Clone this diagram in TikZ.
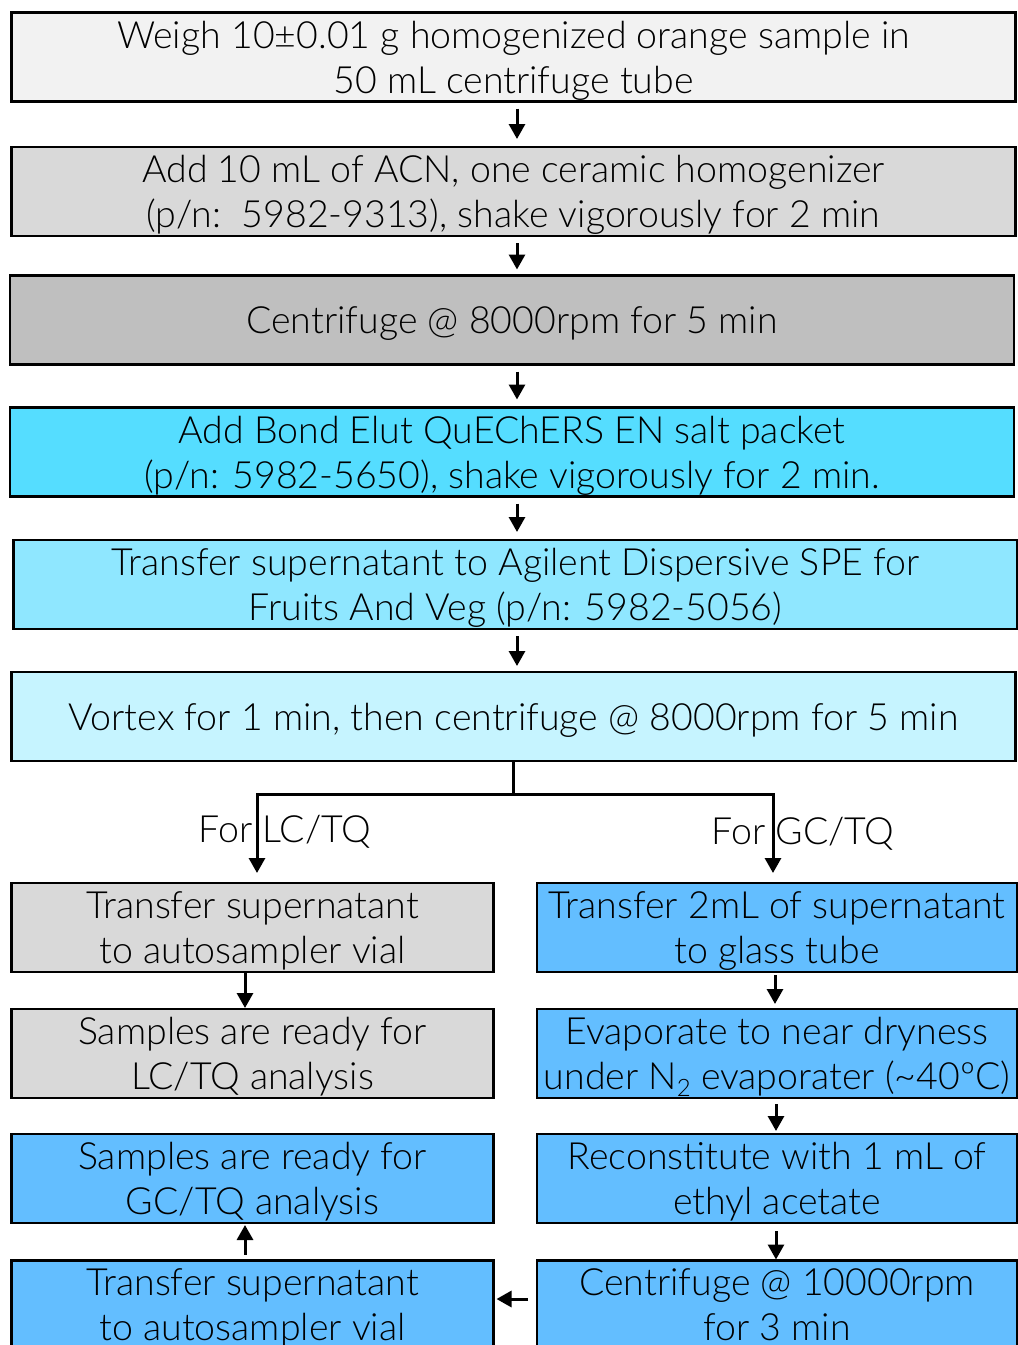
\documentclass[tikz,border=0pt]{standalone}
\usepackage{fontspec}
\setmainfont{Lato}[UprightFont={* Light}]
\usetikzlibrary{arrows.meta}
\definecolor{cA}{HTML}{F2F2F2}
\definecolor{cB}{HTML}{D9D9D9}
\definecolor{cC}{HTML}{BFBFBF}
\definecolor{cD}{HTML}{55DDFF}
\definecolor{cE}{HTML}{8FE7FF}
\definecolor{cF}{HTML}{C6F4FF}
\definecolor{cG}{HTML}{63BEFF}
\tikzset{
  stepbox/.style={draw=black, line width=2.8pt, inner sep=0pt, outer sep=0pt, align=center,
    font=\fontsize{37.5}{45}\selectfont, text depth=0pt},
  wide/.style={stepbox, minimum width=1004pt, minimum height=89pt},
  half/.style={stepbox, minimum width=482pt, minimum height=89pt},
  arr/.style={line width=3pt, -{Triangle[length=15pt,width=16pt]}},
  plain/.style={line width=3pt},
  lbl/.style={font=\fontsize{37.5}{45}\selectfont, inner sep=0pt}
}
\begin{document}
\begin{tikzpicture}[x=1pt,y=1pt]
\useasboundingbox (0,0) rectangle (1018,-1345);
\fill[white] (0,0) rectangle (1018,-1345);
\node[wide, fill=cA] (b1) at (513.5,-57) {Weigh 10±0.01 g homogenized orange sample in\\50 mL centrifuge tube};
\node[wide, fill=cB] (b2) at (513.5,-191.5) {Add 10 mL of ACN, one ceramic homogenizer\\(p/n:\ \ 5982-9313), shake vigorously for 2 min};
\node[wide, fill=cC] (b3) at (512,-320) {Centrifuge @ 8000rpm for 5 min};
\node[wide, fill=cD] (b4) at (512,-452) {Add Bond Elut QuEChERS EN salt packet\\(p/n: 5982-5650), shake vigorously for 2 min.};
\node[wide, fill=cE] (b5) at (515.5,-584.5) {Transfer supernatant to Agilent Dispersive SPE for\\Fruits And Veg (p/n: 5982-5056)};
\node[wide, fill=cF] (b6) at (513.5,-716.5) {Vortex for 1 min, then centrifuge @ 8000rpm for 5 min};

\node[half, fill=cB] (l1) at (252.5,-927.5) {Transfer supernatant\\to autosampler vial};
\node[half, fill=cB] (l2) at (252.5,-1053.5) {Samples are ready for\\LC/TQ analysis};
\node[half, fill=cG] (l3) at (252.5,-1178.5) {Samples are ready for\\GC/TQ analysis};
\node[half, fill=cG] (l4) at (252.5,-1305) {Transfer supernatant\\to autosampler vial};

\node[half, fill=cG, minimum width=480pt] (r1) at (777,-927.5) {Transfer 2mL of supernatant\\to glass tube};
\node[half, fill=cG, minimum width=480pt] (r2) at (777,-1053.5) {Evaporate to near dryness\\under N{\fontsize{24}{24}\selectfont\raisebox{-7pt}{2}} evaporater (\textasciitilde40ºC)};
\node[half, fill=cG, minimum width=480pt] (r3) at (777,-1178.5) {Reconstitute with 1 mL of\\ethyl acetate};
\node[half, fill=cG, minimum width=480pt] (r4) at (777,-1305) {Centrifuge @ 10000rpm\\for 3 min};

\draw[arr] ([xshift=3.5pt,yshift=-7pt]b1.south) -- ([xshift=3.5pt,yshift=8pt]b2.north);
\draw[arr] ([xshift=3.5pt,yshift=-7pt]b2.south) -- ([xshift=5pt,yshift=6pt]b3.north);
\draw[arr] ([xshift=5pt,yshift=-7pt]b3.south) -- ([xshift=5pt,yshift=8pt]b4.north);
\draw[arr] ([xshift=5pt,yshift=-7pt]b4.south) -- ([xshift=1.5pt,yshift=8pt]b5.north);
\draw[arr] ([xshift=1.5pt,yshift=-7pt]b5.south) -- ([xshift=3.5pt,yshift=6pt]b6.north);

\coordinate (split) at (513.5,-794);
\coordinate (lcend) at (257,-873);
\coordinate (gcend) at (773,-873);
\draw[plain] (b6.south) -- (split);
\draw[arr] ([xshift=1.5pt]split) -| (lcend);
\draw[arr] ([xshift=-1.5pt]split) -| (gcend);
\node[lbl] (lclbl) at (285,-832) {For LC/TQ};
\node[lbl] (gclbl) at (803,-834) {For GC/TQ};

\draw[arr] ([xshift=-7.5pt]l1.south) -- ([xshift=-7.5pt,yshift=1pt]l2.north);
\draw[arr] ([xshift=-7.5pt,yshift=6pt]l4.north) -- ([xshift=-7.5pt,yshift=-2pt]l3.south);
\draw[arr] ([xshift=-2pt,yshift=-3pt]r1.south) -- ([xshift=-2pt,yshift=5pt]r2.north);
\draw[arr] ([xshift=-1pt,yshift=-6pt]r2.south) -- ([xshift=-1pt,yshift=3pt]r3.north);
\draw[arr] ([xshift=-1pt,yshift=-8pt]r3.south) -- ([xshift=-1pt,yshift=1pt]r4.north);
\draw[arr] ([xshift=-9pt,yshift=6pt]r4.west) -- ([xshift=3pt,yshift=6pt]l4.east);
\end{tikzpicture}
\end{document}
